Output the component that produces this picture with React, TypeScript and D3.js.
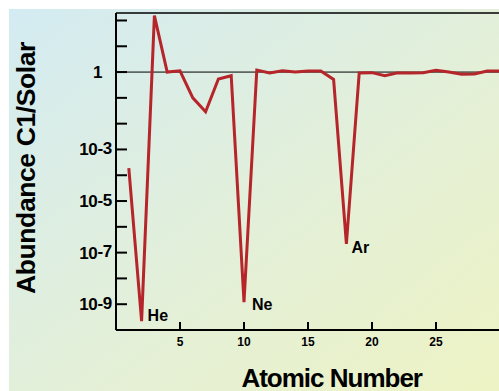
import React from "react";
import * as d3 from "d3";

const atomicNumbers = [1,2,3,4,5,6,7,8,9,10,11,12,13,14,15,16,17,18,19,20,21,22,23,24,25,26,27,28,29,30];
const abundance = [1.9e-4, 2.2e-10, 155, 1.0, 1.12, 0.1, 0.029, 0.54, 0.72, 1.2e-9, 1.2, 0.93, 1.12, 1.0, 1.1, 1.1, 0.52, 2.2e-7, 0.93, 0.95, 0.72, 0.93, 0.93, 0.95, 1.17, 1.0, 0.83, 0.85, 1.1, 1.1];
const xTicks = [5, 10, 15, 20, 25];
const yTickExps = [-9, -8, -7, -6, -5, -4, -3, -2, -1, 0, 1, 2];
const yLabelExps = [-3, -5, -7, -9];
const elementLabels = [
  { z: 2, name: "He", dx: 6, dy: 0 },
  { z: 10, name: "Ne", dx: 8, dy: 8 },
  { z: 18, name: "Ar", dx: 5, dy: 9 },
];

export default function App() {
  const W = 499, H = 391;
  const left = 116, right = 500, top = 13, bottom = 330;
  const x = d3.scaleLinear().domain([0, 30]).range([left, right]);
  const y = d3.scaleLog().domain([1e-10, Math.pow(10, 2.29)]).range([bottom, top]);
  const pts = atomicNumbers.map((z, i) => [z, abundance[i]] as [number, number]);
  const line = d3.line<[number, number]>().x(d => x(d[0])).y(d => y(d[1]));
  const font = "'Liberation Sans', Arial, Helvetica, sans-serif";

  return (
    <svg width={W} height={H} style={{ position: "absolute", left: 0, top: 0 }} fontFamily={font}>
      <defs>
        <linearGradient id="bg" x1="0" y1="0" x2="1" y2="1">
          <stop offset="0%" stopColor="#d3ebf2" />
          <stop offset="50%" stopColor="#e2efda" />
          <stop offset="100%" stopColor="#eef3c4" />
        </linearGradient>
        <clipPath id="plot">
          <rect x={left} y={top + 1} width={W - left} height={bottom - top + 10} />
        </clipPath>
      </defs>
      <rect x={0} y={0} width={W} height={H} fill="#fff" />
      <rect x={9} y={9} width={W - 9} height={H - 9} fill="url(#bg)" />

      {/* y ticks */}
      {yTickExps.map(e => (
        <line key={e} x1={left} x2={left + 11} y1={y(Math.pow(10, e))} y2={y(Math.pow(10, e))} stroke="#000" strokeWidth={2} />
      ))}
      {/* reference line at 1 */}
      <line x1={left} x2={W} y1={y(1)} y2={y(1)} stroke="#000" strokeWidth={1} />
      <text x={102.5} y={y(1) + 6} textAnchor="end" fontSize={17} fontWeight="bold">1</text>
      {yLabelExps.map(e => (
        <text key={e} x={112} y={y(Math.pow(10, e)) + 6} textAnchor="end" fontSize={17} fontWeight="bold" letterSpacing={-0.3}>
          10<tspan dy={-1.5}>{String(e)}</tspan>
        </text>
      ))}

      {/* x ticks */}
      {xTicks.map(t => (
        <g key={t}>
          <line x1={x(t)} x2={x(t)} y1={bottom} y2={bottom - 8} stroke="#000" strokeWidth={2} />
          <text x={x(t)} y={bottom + 16} textAnchor="middle" fontSize={12} fontWeight="bold">{t}</text>
        </g>
      ))}

      {/* frame */}
      <line x1={left} x2={W} y1={top} y2={top} stroke="#000" strokeWidth={1.6} />
      <line x1={left} x2={left} y1={top} y2={bottom} stroke="#000" strokeWidth={2} />
      <line x1={left} x2={W} y1={bottom} y2={bottom} stroke="#000" strokeWidth={2} />

      <path d={line(pts) || ""} fill="none" stroke="#b5252a" strokeWidth={3} strokeLinejoin="miter" strokeMiterlimit={4} clipPath="url(#plot)" />

      {elementLabels.map(l => (
        <text key={l.name} x={x(l.z) + l.dx} y={y(abundance[l.z - 1]) + l.dy} fontSize={16} fontWeight="bold">{l.name}</text>
      ))}

      <text x={331.7} y={386.5} textAnchor="middle" fontSize={26} fontWeight="bold" letterSpacing={-1}>Atomic Number</text>
      <text transform="translate(35,168) rotate(-90)" textAnchor="middle" fontSize={26.5} fontWeight="bold" letterSpacing={-0.4}>Abundance C1/Solar</text>
    </svg>
  );
}
